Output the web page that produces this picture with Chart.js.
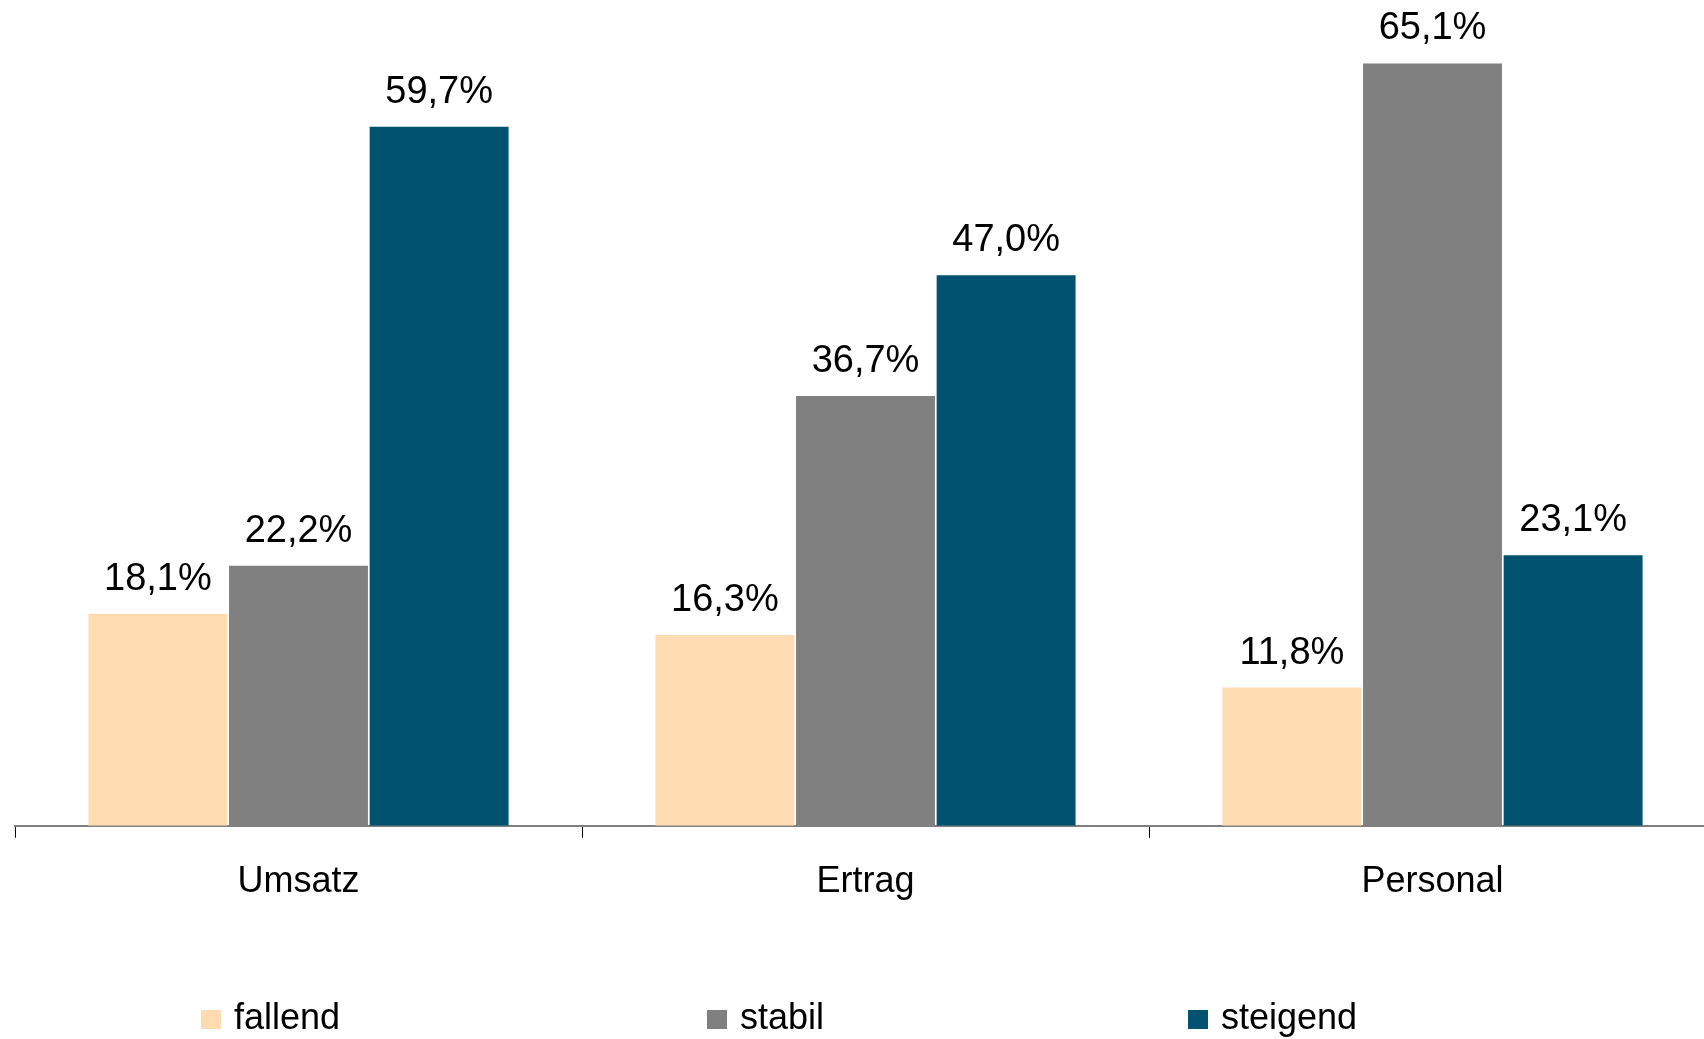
<!DOCTYPE html>
<html lang="de">
<head>
<meta charset="utf-8">
<title>Umsatz, Ertrag, Personal</title>
<script src="https://cdn.jsdelivr.net/npm/chart.js@4.4.1/dist/chart.umd.min.js"></script>
<style>
    html, body {
        margin: 0;
        padding: 0;
        background: #fff;
        overflow: hidden;
    }
    /* a bit wider than the window: the right end of the axis is cut off like in the original */
    .chart-box {
        position: relative;
        width: 1720px;
        height: 1039px;
    }
</style>
</head>
<body>
<div class="chart-box">
    <canvas id="chart"></canvas>
</div>

<script>
// data
const categories = ["Umsatz", "Ertrag", "Personal"];
const seriesNames = ["fallend", "stabil", "steigend"];

const fallendData = [18.1, 16.3, 11.8];
const stabilData = [22.2, 36.7, 65.1];
const steigendData = [59.7, 47.0, 23.1];

const seriesColors = ["#FFDBB2", "#808080", "#00526F"];

const yMin = 0;
const yMax = 70;

const fontFamily = "'Liberation Sans', Arial, Helvetica, sans-serif";

// value labels over the bars, german number format
const valueLabels = {
    id: "valueLabels",
    afterDatasetsDraw(chart) {
        const c = chart.ctx;
        c.save();
        c.font = "38px " + fontFamily;
        c.fillStyle = "#000";
        c.textAlign = "center";
        c.textBaseline = "alphabetic";
        chart.data.datasets.forEach((ds, i) => {
            const meta = chart.getDatasetMeta(i);
            meta.data.forEach((bar, j) => {
                const text = ds.data[j].toFixed(1).replace(".", ",") + "%";
                c.fillText(text, bar.x, bar.y - 24);
            });
        });
        c.restore();
    }
};

// legend at the bottom, items spread like in the original
const bottomLegend = {
    id: "bottomLegend",
    afterDraw(chart, args, opts) {
        const c = chart.ctx;
        c.save();
        c.font = "36px " + fontFamily;
        c.textAlign = "left";
        c.textBaseline = "alphabetic";
        chart.data.datasets.forEach((ds, i) => {
            const x = opts.itemX[i];
            c.fillStyle = ds.backgroundColor;
            c.fillRect(x, opts.boxTop, 20, 19);
            c.fillStyle = "#000";
            c.fillText(ds.label, x + 33, opts.baseline);
        });
        c.restore();
    }
};

const ctx = document.getElementById("chart");

const chart = new Chart(ctx, {
    type: "bar",
    data: {
        labels: categories,
        datasets: [
            { label: seriesNames[0], data: fallendData, backgroundColor: seriesColors[0] },
            { label: seriesNames[1], data: stabilData, backgroundColor: seriesColors[1] },
            { label: seriesNames[2], data: steigendData, backgroundColor: seriesColors[2] }
        ]
    },
    options: {
        responsive: true,
        maintainAspectRatio: false,
        animation: false,
        devicePixelRatio: 1,
        layout: {
            padding: { left: 15, right: 4, top: 6, bottom: 112 }
        },
        datasets: {
            bar: {
                barPercentage: 0.988,
                categoryPercentage: 0.744,
                borderWidth: 0
            }
        },
        plugins: {
            legend: { display: false },
            tooltip: { enabled: false },
            bottomLegend: {
                itemX: [201, 707, 1188],
                boxTop: 1010,
                baseline: 1029
            }
        },
        scales: {
            x: {
                grid: {
                    offset: true,
                    drawOnChartArea: false,
                    drawTicks: true,
                    tickLength: 12,
                    tickColor: "#000",
                    lineWidth: 1
                },
                border: {
                    display: true,
                    color: "#808080",
                    width: 2
                },
                ticks: {
                    color: "#000",
                    padding: 23,
                    font: { family: fontFamily, size: 36 }
                }
            },
            y: {
                display: false,
                min: yMin,
                max: yMax
            }
        }
    },
    plugins: [valueLabels, bottomLegend]
});
</script>
</body>
</html>
